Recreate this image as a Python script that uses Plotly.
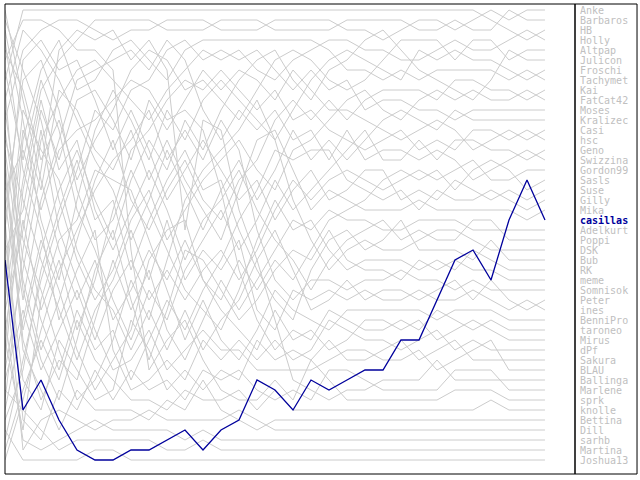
import plotly.graph_objects as go

# rank of each player after every round (1 = top), round 0..30
anke = [12,5,3,2,2,3,4,3,3,2,2,2,3,3,3,2,2,2,2,3,3,4,3,2,2,3,2,1,2,1,1]
barbaros = [30,18,9,6,4,2,2,2,2,3,3,3,2,2,2,3,3,3,3,2,2,2,2,3,3,2,3,3,1,2,2]
hb = [8,1,1,1,1,1,1,1,1,1,1,1,1,1,1,1,1,1,1,1,1,1,1,1,1,1,1,2,3,4,3]
holly = [40,25,14,10,7,6,8,10,12,9,7,5,6,5,7,8,6,5,4,4,5,5,6,6,5,4,5,5,4,3,4]
altpap = [5,9,16,12,18,14,11,7,5,6,9,8,10,12,9,6,5,6,8,9,8,6,4,4,4,6,4,4,6,5,5]
julicon = [20,33,25,19,15,20,24,18,14,17,12,15,11,8,6,5,8,10,7,6,4,3,5,7,8,9,10,8,5,6,6]
froschi = [3,12,22,28,20,13,9,12,16,11,14,10,8,10,12,14,11,8,6,5,6,7,8,5,6,5,6,6,7,8,7]
tachymet = [35,14,7,4,9,8,5,4,6,8,5,4,4,4,4,4,4,4,5,7,7,8,7,8,7,7,7,7,8,7,8]
kai = [15,28,35,30,24,18,14,20,23,19,16,20,22,18,16,12,10,12,10,12,10,9,9,9,10,8,8,9,9,10,9]
fatcat42 = [2,7,12,20,26,30,27,22,19,24,21,18,16,14,17,19,15,14,12,10,9,11,12,10,9,10,9,10,10,9,10]
moses = [44,36,28,22,17,11,13,9,8,5,4,6,5,6,5,7,9,7,9,8,11,10,10,11,11,12,11,11,11,11,11]
kralizec = [10,3,5,8,12,16,19,24,20,15,19,23,19,16,20,17,13,16,14,16,14,12,11,12,13,11,12,12,12,12,12]
casi = [25,21,11,16,10,9,12,16,10,13,10,7,9,7,8,10,7,9,11,11,12,13,14,13,12,13,15,14,13,14,13]
hsc = [33,22,31,26,33,28,21,15,13,10,8,9,7,9,11,9,12,11,13,14,15,14,13,15,14,15,13,13,14,13,14]
geno = [7,16,8,13,21,25,30,34,29,32,27,24,21,25,22,18,21,19,17,15,13,16,16,14,16,14,14,15,15,16,15]
swizzina = [18,30,20,14,8,7,6,5,7,4,6,11,14,11,13,11,14,13,16,13,16,15,15,16,15,16,18,17,16,15,16]
gordon99 = [38,31,37,33,29,34,29,26,30,27,30,27,25,28,25,21,18,20,18,17,18,19,18,17,18,17,16,18,18,17,17]
sasls = [1,10,18,25,30,26,32,29,25,28,24,28,30,26,29,26,28,25,22,21,20,18,17,18,17,19,17,16,17,19,18]
suse = [23,6,4,7,6,10,15,11,15,20,17,14,17,20,18,22,19,17,20,19,17,17,20,19,20,18,19,20,19,20,19]
gilly = [13,26,32,37,31,35,33,38,34,30,33,29,26,22,19,15,16,15,15,18,19,20,19,21,19,20,20,19,20,21,20]
mika = [29,13,19,9,11,15,17,13,18,14,18,21,24,19,14,13,17,21,19,20,21,21,21,20,21,21,21,21,21,22,21]
casillas = [26,41,38,42,45,46,46,45,45,44,43,45,43,42,38,39,41,38,39,38,37,37,34,34,30,26,25,28,22,18,22]
adelkurt = [16,34,40,36,38,32,26,31,27,33,36,32,28,31,28,25,22,23,21,22,22,23,23,22,22,22,23,23,23,23,23]
poppi = [36,19,10,17,14,21,25,21,17,21,26,22,20,17,21,24,26,29,26,24,23,22,24,23,24,24,22,22,24,24,24]
dsk = [11,24,29,35,40,38,34,28,32,26,20,17,15,13,10,14,20,24,27,25,24,25,25,24,23,23,24,25,25,25,25]
bub = [42,37,27,21,16,22,20,27,22,18,15,19,18,23,27,30,32,27,24,23,25,24,22,25,25,25,26,24,26,26,26]
rk = [21,8,6,11,19,24,22,17,21,25,29,31,33,29,24,20,23,22,25,27,26,26,26,27,26,27,25,26,27,27,27]
meme = [9,29,36,40,34,27,23,30,36,31,25,26,29,32,30,27,25,26,23,26,27,27,28,26,27,26,27,27,28,28,28]
somnisok = [46,40,33,27,23,19,16,14,11,16,13,16,12,15,23,28,30,28,28,29,28,28,27,28,28,29,28,29,29,29,29]
peter = [28,11,15,18,25,29,31,35,31,35,31,35,32,30,26,23,27,31,30,28,30,29,29,30,29,28,30,28,30,31,30]
ines = [14,20,26,31,36,31,28,23,28,22,28,25,27,24,31,33,29,30,29,30,29,30,30,29,30,30,29,30,31,30,31]
bennipro = [34,43,30,24,22,17,18,19,24,29,34,30,34,36,33,29,31,32,33,31,31,31,31,31,32,31,31,31,32,32,32]
taroneo = [19,15,21,15,13,12,10,8,9,12,11,13,19,27,32,35,33,34,31,32,33,33,32,33,31,32,33,32,33,33,33]
mirus = [41,32,24,29,35,39,36,33,26,23,22,28,31,33,35,31,34,33,35,34,32,32,33,32,34,33,32,33,34,34,34]
dpf = [4,17,23,32,27,23,35,39,38,36,38,34,36,34,36,34,36,35,32,33,34,34,35,34,33,35,34,35,35,35,35]
sakura = [24,38,41,34,37,40,39,32,35,39,37,39,37,38,34,36,35,36,34,36,36,35,34,36,35,34,36,36,36,36,36]
blau = [31,23,13,23,28,33,37,36,33,37,35,33,35,35,37,37,37,37,36,35,35,36,36,35,37,36,35,34,37,37,37]
ballinga = [37,27,17,5,3,4,3,6,4,7,23,12,13,21,26,32,38,39,40,39,39,38,38,38,36,38,38,38,38,38,38]
marlene = [22,42,44,39,41,37,40,37,39,38,40,37,38,37,39,40,39,40,37,37,38,39,39,39,39,37,37,37,39,39,39]
sprk = [6,2,2,3,5,5,7,25,37,34,32,36,39,40,40,38,40,36,38,40,40,40,40,40,40,39,39,39,40,40,40]
knolle = [45,39,34,38,32,36,38,40,40,41,39,40,40,39,41,39,41,41,41,41,41,41,41,41,41,41,41,40,41,41,41]
bettina = [17,35,39,43,39,41,41,41,42,40,41,38,41,42,43,42,42,42,42,42,42,42,42,42,42,42,42,42,42,42,42]
dill = [27,45,42,41,42,43,42,42,41,42,42,42,42,41,42,43,43,43,43,43,43,43,43,43,43,43,43,43,43,43,43]
sarhb = [32,44,45,44,43,42,43,43,43,43,44,43,44,44,44,44,44,44,44,44,44,44,44,44,44,44,44,44,44,44,44]
martina = [39,41,43,45,44,44,44,44,44,45,45,44,45,45,45,45,45,45,45,45,45,45,45,45,45,45,45,45,45,45,45]
joshua13 = [43,46,46,46,46,45,45,46,46,46,46,46,46,46,46,46,46,46,46,46,46,46,46,46,46,46,46,46,46,46,46]

players = [("Anke", anke), ("Barbaros", barbaros), ("HB", hb), ("Holly", holly),
           ("Altpap", altpap), ("Julicon", julicon), ("Froschi", froschi),
           ("Tachymet", tachymet), ("Kai", kai), ("FatCat42", fatcat42),
           ("Moses", moses), ("Kralizec", kralizec), ("Casi", casi), ("hsc", hsc),
           ("Geno", geno), ("Swizzina", swizzina), ("Gordon99", gordon99),
           ("Sasls", sasls), ("Suse", suse), ("Gilly", gilly), ("Mika", mika),
           ("casillas", casillas), ("Adelkurt", adelkurt), ("Poppi", poppi),
           ("DSK", dsk), ("Bub", bub), ("RK", rk), ("meme", meme),
           ("Somnisok", somnisok), ("Peter", peter), ("ines", ines),
           ("BenniPro", bennipro), ("taroneo", taroneo), ("Mirus", mirus),
           ("dPf", dpf), ("Sakura", sakura), ("BLAU", blau), ("Ballinga", ballinga),
           ("Marlene", marlene), ("sprk", sprk), ("knolle", knolle),
           ("Bettina", bettina), ("Dill", dill), ("sarhb", sarhb),
           ("Martina", martina), ("Joshua13", joshua13)]
highlight = "casillas"

rounds = list(range(len(casillas)))

fig = go.Figure()
for name, ranks in players:
    if name == highlight:
        continue
    fig.add_trace(go.Scatter(x=rounds, y=ranks, mode="lines", name=name,
                             line=dict(color="#cccccc", width=1), hoverinfo="name"))
fig.add_trace(go.Scatter(x=rounds, y=casillas, mode="lines", name=highlight,
                         line=dict(color="#00009c", width=1.3), hoverinfo="name"))

# legend: names in final order at the right
for name, ranks in players:
    hl = name == highlight
    fig.add_annotation(x=1.006, xref="paper", y=ranks[-1], yref="y",
                       text="<b>%s</b>" % name if hl else name, showarrow=False,
                       xanchor="left", yanchor="middle",
                       font=dict(family="DejaVu Sans Mono", size=10,
                                 color="#00009c" if hl else "#c0c0c0"))

# frames round plot and name column
fig.add_shape(type="rect", xref="paper", yref="paper", x0=0, x1=1, y0=0, y1=1,
              line=dict(color="black", width=1))
fig.add_shape(type="rect", xref="paper", yref="paper", x0=1, x1=1.1088, y0=0, y1=1,
              line=dict(color="black", width=1))

fig.update_layout(
    width=640, height=480,
    margin=dict(l=5, r=65, t=4, b=6),
    paper_bgcolor="white", plot_bgcolor="white",
    showlegend=False,
    xaxis=dict(range=[0, 31.667], visible=False, fixedrange=True),
    yaxis=dict(range=[47.4, 0.4], visible=False, fixedrange=True),
)

fig.write_html("out.html", config={"displayModeBar": False},
               post_script="document.body.style.margin='0';")
